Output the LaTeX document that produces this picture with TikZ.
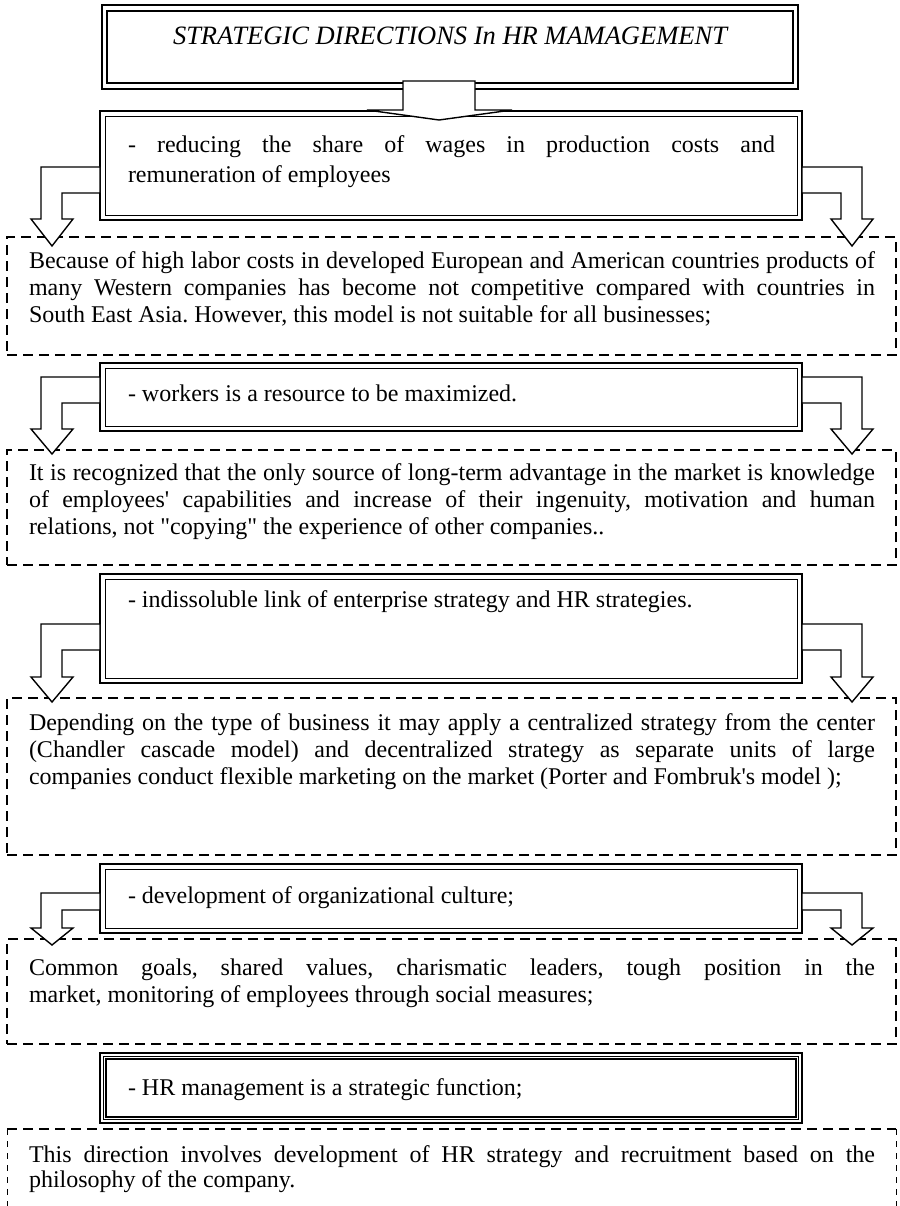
\documentclass[tikz,border=0pt]{standalone}
\usepackage{fontspec}
\setmainfont{Liberation Serif}[Ligatures=TeXOff]
\usetikzlibrary{calc}
\frenchspacing
\newcommand\hdtext{\fontsize{24}{30}\selectfont\tolerance=10000\hyphenpenalty=10000\relax}
\newcommand\bdtext{\fontsize{24}{27}\selectfont\tolerance=10000\hyphenpenalty=10000\relax}
\newcommand\bdtexttight{\fontsize{24}{25.5}\selectfont\tolerance=10000\hyphenpenalty=10000\relax}
% bent block arrow leaving a box to the left and turning down
% #1 box, #2 bar top below box top, #3 bar height, #4 shaft below bar, #5 head height
\newcommand\bendleft[5]{%
  \draw[blockarrow] ($(#1.north west)+(0,#2)$) -- ++(-59,0) -- ++(0,{#3+#4})
    -- ++(-10,0) -- ++(21,#5) -- ++(21,-#5) -- ++(-11,0) -- ++(0,-#4) -- ++(38,0) -- cycle;}
% the same, leaving to the right
\newcommand\bendright[5]{%
  \draw[blockarrow] ($(#1.north east)+(0,#2)$) -- ++(60,0) -- ++(0,{#3+#4})
    -- ++(11,0) -- ++(-21,#5) -- ++(-21,-#5) -- ++(10,0) -- ++(0,-#4) -- ++(-39,0) -- cycle;}
\begin{document}
\begin{tikzpicture}[x=1pt,y=-1pt,
  every node/.style={inner sep=0pt,outer sep=0pt},
  boxframe/.style={draw=black,line width=2.2pt,fill=white,rectangle,anchor=north west},
  innerframe/.style={draw=black,line width=0.9pt},
  dashframe/.style={draw=black,line width=1.5pt,dash pattern=on 10pt off 6pt,rectangle,anchor=north west},
  blockarrow/.style={draw=black,line width=1.4pt,fill=white,line join=miter},
  headtext/.style={anchor=base west,text width=647pt,align=justify,font=\hdtext},
  bodytext/.style={anchor=base west,text width=846pt,align=justify,font=\bdtext}]
\useasboundingbox[fill=white] (0,0) rectangle (899,1206);

% title
\node[boxframe,line width=1.1pt,minimum width=696pt,minimum height=84pt] (title) at (102,5) {};
\draw[line width=2.2pt] ([shift={(5,6)}]title.north west) rectangle ([shift={(-5,-6)}]title.south east);
\node[anchor=base,font=\fontsize{26.5}{30}\selectfont\itshape] (titletext) at (450,45)
  {STRATEGIC DIRECTIONS In HR MAMAGEMENT};

% dashed explanation boxes
\node[dashframe,minimum width=889pt,minimum height=118pt] (d1) at (7,237) {};
\node[dashframe,minimum width=889pt,minimum height=115pt] (d2) at (7,450) {};
\node[dashframe,minimum width=889pt,minimum height=157pt] (d3) at (7,698) {};
\node[dashframe,minimum width=889pt,minimum height=105pt] (d4) at (7,939) {};
\node[rectangle,anchor=north west,minimum width=889pt,minimum height=77pt] (d5) at (7,1129) {};
\draw[line width=1.4pt,dash pattern=on 10pt off 6pt] (d5.north west) -- (d5.north east);
\draw[line width=1pt,dash pattern=on 6pt off 6pt] (d5.north west) -- (d5.south west)
  (d5.north east) -- (d5.south east);

% direction boxes
\node[boxframe,minimum width=702pt,minimum height=109pt] (b1) at (100,111) {};
\node[boxframe,minimum width=702pt,minimum height=68pt] (b2) at (100,363) {};
\node[boxframe,minimum width=702pt,minimum height=109pt] (b3) at (100,574) {};
\node[boxframe,minimum width=702pt,minimum height=69pt] (b4) at (100,864) {};
\node[boxframe,minimum width=702pt,minimum height=70pt] (b5) at (100,1053) {};
\foreach \b in {b1,b2,b3,b4}
  \draw[innerframe] ([shift={(5,5)}]\b.north west) rectangle ([shift={(-5,-5)}]\b.south east);
\draw[line width=0.7pt] ([shift={(3.3,3.3)}]b5.north west) rectangle ([shift={(-3.3,-3.3)}]b5.south east);
\draw[line width=1.6pt] ([shift={(6,6)}]b5.north west) rectangle ([shift={(-6,-6)}]b5.south east);

% arrow from the title into the first box
\draw[blockarrow] ($(title.south)+(-47,-8)$) -- ++(72,0) -- ++(0,29) -- ++(37,0)
  -- ($(b1.north)+(-12,9)$) -- ++(-72,-10) -- ++(36,0) -- cycle;

% bent arrows from each box down to its explanation
\bendleft{b1}{56}{26}{26}{27}   \bendright{b1}{56}{26}{26}{27}
\bendleft{b2}{14}{26}{26}{25}   \bendright{b2}{14}{26}{26}{25}
\bendleft{b3}{50}{26}{27}{25}   \bendright{b3}{50}{26}{27}{25}
\bendleft{b4}{29}{17}{18}{17}   \bendright{b4}{29}{17}{18}{17}

% texts of the boxes
\node[headtext] (t1) at (128,153) {- reducing the share of wages in production costs and\linebreak remuneration of employees};
\node[headtext] (t2) at (128,401) {- workers is a resource to be maximized.};
\node[headtext] (t3) at (128,607) {- indissoluble link of enterprise strategy and HR strategies.};
\node[headtext] (t4) at (128,903) {- development of organizational culture;};
\node[headtext] (t5) at (128,1095) {- HR management is a strategic function;};

% texts of the explanations
\node[bodytext] (e1) at (29,268) {Because of high labor costs in developed European and American countries products of\linebreak many Western companies has become not competitive compared with countries in\linebreak South East Asia. However, this model is not suitable for all businesses;};
\node[bodytext] (e2) at (29,480) {It is recognized that the only source of long-term advantage in the market is knowledge\linebreak of employees' capabilities and increase of their ingenuity, motivation and human\linebreak relations, not "copying" the experience of other companies..};
\node[bodytext] (e3) at (29,730) {Depending on the type of business it may apply a centralized strategy from the center\linebreak (Chandler cascade model) and decentralized strategy as separate units of large\linebreak companies conduct flexible marketing on the market (Porter and Fombruk's model );};
\node[bodytext] (e4) at (29,975) {Common goals, shared values, charismatic leaders, tough position in the\linebreak market, monitoring of employees through social measures;};
\node[bodytext,font=\bdtexttight] (e5) at (29,1162) {This direction involves development of HR strategy and recruitment based on the\linebreak philosophy of the company.};
\end{tikzpicture}
\end{document}
